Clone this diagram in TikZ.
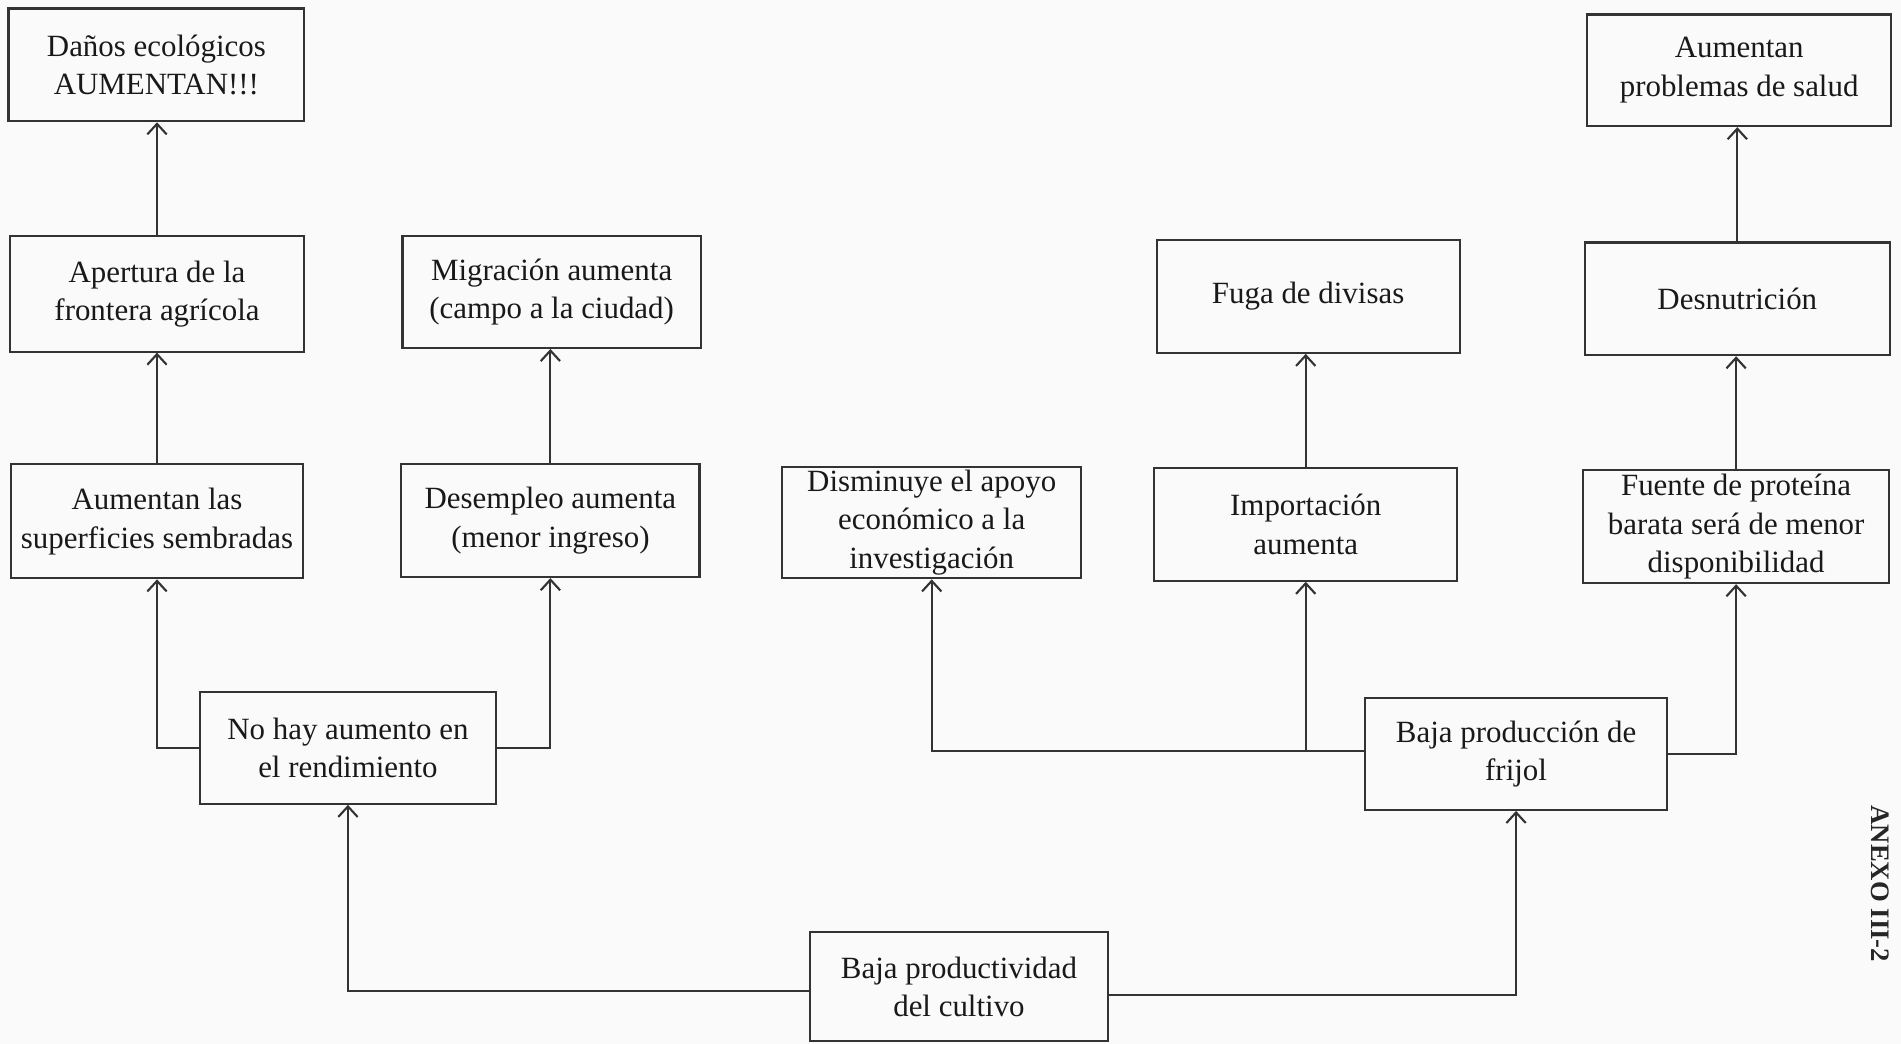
\documentclass[tikz,border=0pt]{standalone}
\usepackage{fontspec}
\setmainfont{Liberation Serif}
\usetikzlibrary{arrows.meta}
\definecolor{ink}{HTML}{333333}
\definecolor{paper}{HTML}{FAFAFA}
\def\pxu{0.012124cm}
% box from its corners (x1,y1)-(x2,y2), in pixel units measured downwards
\newcommand\mkbox[6]{\node[cell, minimum width={(#4-#2)*\pxu}, minimum height={(#5-#3)*\pxu}] (#1) at ({(#2+#4)/2},{(#3+#5)/2}) {#6};}
\begin{document}
\begin{tikzpicture}[x=0.012124cm, y=-0.012124cm,
  cell/.style={draw=ink, line width=0.6pt, rectangle, inner sep=0pt, align=center,
    text=black!90, font=\fontsize{8.8}{11}\selectfont},
  arr/.style={draw=ink, line width=0.6pt, -{Straight Barb[length=3pt,width=5.5pt]}}]
\fill[paper] (0,0) rectangle (1568,861);
\useasboundingbox (0,0) rectangle (1568,861);

% left branch
\mkbox{danos}{7}{7}{251}{100}{Daños ecológicos\\AUMENTAN!!!}
\mkbox{apert}{8}{195}{251}{290}{Apertura de la\\frontera agrícola}
\mkbox{superf}{9}{383}{250}{477}{Aumentan las\\superficies sembradas}
\mkbox{migra}{332}{195}{578}{287}{Migración aumenta\\(campo a la ciudad)}
\mkbox{desem}{331}{383}{577}{476}{Desempleo aumenta\\(menor ingreso)}
\mkbox{nohay}{165}{571}{409}{663}{No hay aumento en\\el rendimiento}

% root
\mkbox{bprod}{668}{769}{914}{859}{Baja productividad\\del cultivo}

% right branch
\mkbox{dismi}{645}{385}{892}{477}{Disminuye el apoyo\\económico a la\\investigación}
\mkbox{fuga}{954}{198}{1204}{291}{Fuga de divisas}
\mkbox{impor}{952}{386}{1202}{479}{Importación\\aumenta}
\mkbox{salud}{1309}{12}{1560}{104}{Aumentan\\problemas de salud}
\mkbox{desnu}{1307}{200}{1559}{293}{Desnutrición}
\mkbox{fuente}{1306}{388}{1558}{481}{Fuente de proteína\\barata será de menor\\disponibilidad}
\mkbox{frijol}{1126}{576}{1375}{668}{Baja producción de\\frijol}

% exit points of the elbow connectors
\coordinate (bpW) at ([yshift=-0.04cm]bprod.west);
\coordinate (bpE) at ([yshift=-0.08cm]bprod.east);
\coordinate (fjW) at ([yshift=0.03cm]frijol.west);

% connectors
\draw[arr] (bpW) -| (nohay.south);
\draw[arr] (bpE) -| (frijol.south);

\draw[arr] (nohay.west) -| (superf.south);
\draw[arr] (nohay.east) -| (desem.south);
\draw[arr] (superf.north) -- (superf.north |- apert.south);
\draw[arr] (apert.north) -- (apert.north |- danos.south);
\draw[arr] (desem.north) -- (desem.north |- migra.south);

\draw[arr] (fjW) -| (dismi.south);
\draw[arr] (impor.south |- fjW) -- (impor.south);
\draw[arr] (frijol.east) -| (fuente.south);
\draw[arr] (impor.north) -- (impor.north |- fuga.south);
\draw[arr] (fuente.north) -- (fuente.north |- desnu.south);
\draw[arr] (desnu.north) -- (desnu.north |- salud.south);

% page label
\node[rotate=-90, font=\bfseries\fontsize{7.6}{9}\selectfont, text=black!85] (anexo) at (1551,729) {ANEXO III-2};
\end{tikzpicture}
\end{document}
